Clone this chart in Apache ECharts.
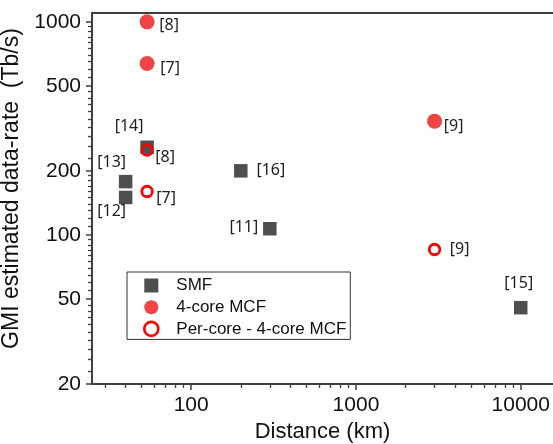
<!DOCTYPE html>
<html><head><meta charset="utf-8">
<script src="https://cdn.jsdelivr.net/npm/echarts@6/dist/echarts.min.js"></script>
<style>html,body{margin:0;padding:0;background:#fff}#c{width:553px;height:444px}</style>
</head><body><div id="c"></div>
<script>
// ---- data ----
const smfDistance = [40, 40, 54, 200, 300, 10000];
const smfRate = [178, 150, 258, 200, 107, 45.6];
const smfRefs = ['[13]', '[12]', '[14]', '[16]', '[11]', '[15]'];

const mcfDistance = [54, 54, 3000];
const mcfRate = [1000, 638, 342];
const mcfRefs = ['[8]', '[7]', '[9]'];

const perCoreDistance = [54, 54, 3000];
const perCoreRate = [250, 160, 85.5];
const perCoreRefs = ['[8]', '[7]', '[9]'];

const xMajorTicks = [100, 1000, 10000];
const xMinorTicks = [30, 40, 50, 60, 70, 80, 90,
  200, 300, 400, 500, 600, 700, 800, 900,
  2000, 3000, 4000, 5000, 6000, 7000, 8000, 9000];
const yMajorTicks = [20, 50, 100, 200, 500, 1000];
const yMinorTicks = [23, 26, 29, 32, 35, 38, 41, 44, 47,
  55, 60, 65, 70, 75, 80, 85, 90, 95,
  110, 120, 130, 140, 150, 160, 170, 180, 190,
  230, 260, 290, 320, 350, 380, 410, 440, 470,
  550, 600, 650, 700, 750, 800, 850, 900, 950];

// ---- label placement (style, not data) ----
const smfLabelOffsets = [[-14, -19], [-14, 14], [-18, -21], [30, 0], [-26, -1], [-2, -24]];
const mcfLabelOffsets = [[22, 4], [23, 5], [19, 5]];
const perCoreLabelOffsets = [[18, 7], [19, 7], [25, 0]];

const L = Math.log10;
const xMin = L(25), xMax = L(15700);
const yMin = L(20), yMax = L(1100);
const axisColor = '#3f3f3f';
const fontAxis = 'Liberation Sans';

function build(xs, ys, offs) {
  return xs.map((x, i) => ({ value: [L(x), L(ys[i])], label: { offset: offs[i] } }));
}
const pointLabel = (refs) => ({
  show: true, position: 'inside', formatter: p => refs[p.dataIndex],
  color: '#1e1e1e', fontFamily: 'Noto Sans', fontSize: 16
});
const fmt = v => String(Math.round(Math.pow(10, v)));

const chart = echarts.init(document.getElementById('c'), null, { renderer: 'canvas' });
chart.setOption({
  animation: false,
  backgroundColor: '#fff',
  grid: { left: 92, top: 13, right: 0, bottom: 60, containLabel: false, outerBoundsMode: 'none' },
  xAxis: [
    {
      type: 'value', min: xMin, max: xMax, position: 'bottom',
      axisLine: { show: true, lineStyle: { color: axisColor, width: 2 } },
      axisTick: { show: true, length: 6, inside: false, customValues: xMajorTicks.map(L), lineStyle: { color: axisColor, width: 1.5 } },
      axisLabel: { show: true, customValues: xMajorTicks.map(L), formatter: fmt, margin: 11,
        fontSize: 21, fontFamily: fontAxis, color: '#111' },
      splitLine: { show: false },
      name: 'Distance (km)', nameLocation: 'middle', nameGap: 37,
      nameTextStyle: { fontSize: 22, fontFamily: fontAxis, color: '#111' }
    },
    {
      type: 'value', min: xMin, max: xMax, position: 'bottom',
      axisLine: { show: false },
      axisTick: { show: true, length: 4, customValues: xMinorTicks.map(L), lineStyle: { color: axisColor, width: 1.3 } },
      axisLabel: { show: false }, splitLine: { show: false }
    },
    {
      type: 'value', min: xMin, max: xMax, position: 'top',
      axisLine: { show: true, lineStyle: { color: axisColor, width: 2 } },
      axisTick: { show: false }, axisLabel: { show: false }, splitLine: { show: false }
    }
  ],
  yAxis: [
    {
      type: 'value', min: yMin, max: yMax, position: 'left',
      axisLine: { show: true, lineStyle: { color: axisColor, width: 2 } },
      axisTick: { show: true, length: 6, customValues: yMajorTicks.map(L), lineStyle: { color: axisColor, width: 1.5 } },
      axisLabel: { show: true, customValues: yMajorTicks.map(L), formatter: fmt, margin: 11,
        fontSize: 21, fontFamily: fontAxis, color: '#111' },
      splitLine: { show: false },
      name: 'GMI estimated data-rate  (Tb/s)', nameLocation: 'middle', nameGap: 57,
      nameTextStyle: { fontSize: 23, fontFamily: fontAxis, color: '#111', padding: [0, 0, 0, 20] }
    },
    {
      type: 'value', min: yMin, max: yMax, position: 'left',
      axisLine: { show: false },
      axisTick: { show: true, length: 4, customValues: yMinorTicks.map(L), lineStyle: { color: axisColor, width: 1.3 } },
      axisLabel: { show: false }, splitLine: { show: false }
    }
  ],
  legend: {
    left: 127, top: 272, orient: 'vertical',
    padding: [5, 4, 2, 16], itemGap: 4.7, itemWidth: 14, itemHeight: 14,
    borderColor: '#333', borderWidth: 1, backgroundColor: '#fff',
    textStyle: { fontSize: 17, fontFamily: fontAxis, color: '#111', padding: [0, 0, 0, 13] },
    data: [
      { name: 'SMF', icon: 'rect' },
      { name: '4-core MCF', icon: 'circle' },
      { name: 'Per-core - 4-core MCF', icon: 'circle', itemStyle: { color: '#fff', borderColor: '#ff0000', borderWidth: 2.6 } }
    ]
  },
  series: [
    {
      name: 'SMF', type: 'scatter', symbol: 'rect', symbolSize: 13.5,
      itemStyle: { color: '#4f4f4f', opacity: 1 },
      label: pointLabel(smfRefs),
      data: build(smfDistance, smfRate, smfLabelOffsets), z: 2
    },
    {
      name: '4-core MCF', type: 'scatter', symbol: 'circle', symbolSize: 15,
      itemStyle: { color: '#f14545', opacity: 1 },
      label: pointLabel(mcfRefs),
      data: build(mcfDistance, mcfRate, mcfLabelOffsets), z: 3
    },
    {
      name: 'Per-core - 4-core MCF', type: 'scatter', symbol: 'circle', symbolSize: 10.5,
      itemStyle: { color: 'rgba(255,255,255,0)', borderColor: '#ff0000', borderWidth: 2.8, opacity: 1 },
      label: pointLabel(perCoreRefs),
      data: build(perCoreDistance, perCoreRate, perCoreLabelOffsets), z: 4
    }
  ]
});
</script></body></html>
